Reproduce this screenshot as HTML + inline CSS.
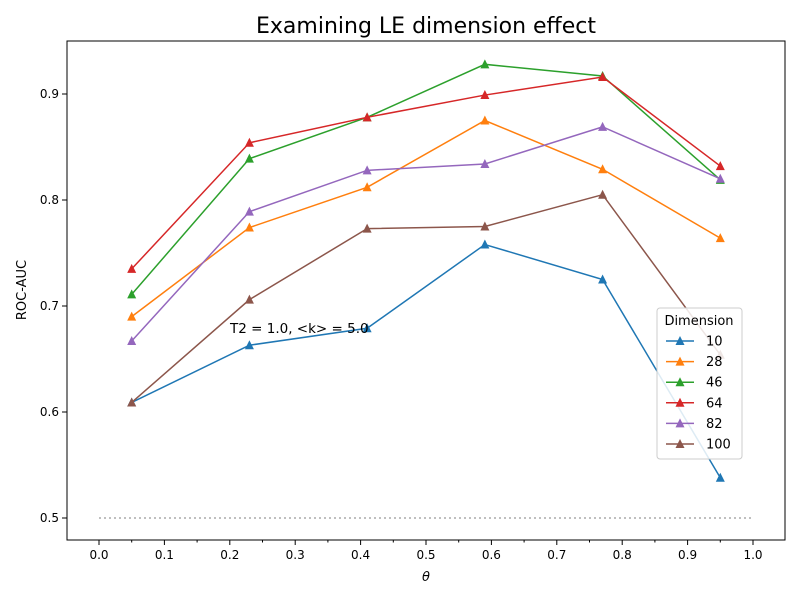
<!DOCTYPE html>
<html><head><meta charset="utf-8"><style>
body{margin:0;background:#fff;}
svg{font-family:"DejaVu Sans","Liberation Sans",sans-serif;}
</style></head><body>
<svg id="chart" width="800" height="600" xmlns="http://www.w3.org/2000/svg">
<rect width="800" height="600" fill="#fff"/>
<text x="426" y="33" font-size="22" text-anchor="middle">Examining LE dimension effect</text>
<g id="grid"></g>
<g id="series"></g>
<rect x="67" y="41" width="718" height="499" fill="none" stroke="#000" stroke-width="1"/>
<g id="axes"></g>
<text x="426" y="581" font-size="13" text-anchor="middle" font-style="italic">θ</text>
<text x="26" y="290" font-size="13" text-anchor="middle" transform="rotate(-90 26 290)">ROC-AUC</text>
<text x="230" y="333" font-size="13.5">T2 = 1.0, &lt;k&gt; = 5.0</text>
<g id="legend"></g>
</svg>
<script>
const xs = [0.05, 0.23, 0.41, 0.59, 0.77, 0.95];
const seriesNames = ["10", "28", "46", "64", "82", "100"];
const s10 = [0.609, 0.663, 0.679, 0.758, 0.725, 0.538];
const s28 = [0.690, 0.774, 0.812, 0.875, 0.829, 0.764];
const s46 = [0.711, 0.839, 0.878, 0.928, 0.917, 0.819];
const s64 = [0.735, 0.854, 0.878, 0.899, 0.916, 0.832];
const s82 = [0.667, 0.789, 0.828, 0.834, 0.869, 0.820];
const s100 = [0.609, 0.706, 0.773, 0.775, 0.805, 0.654];
const xTicks = [0,0.1,0.2,0.3,0.4,0.5,0.6,0.7,0.8,0.9,1.0];
const yTicks = [0.5,0.6,0.7,0.8,0.9];
const baseline = 0.5;
const colors = ["#1f77b4","#ff7f0e","#2ca02c","#d62728","#9467bd","#8c564b"];
const allSeries = [s10,s28,s46,s64,s82,s100];
const NS="http://www.w3.org/2000/svg";
function X(v){return 99+v*654;}
function Y(v){return 518-(v-0.5)*1060;}
function mk(tag,attrs,parent){const e=document.createElementNS(NS,tag);for(const k in attrs)e.setAttribute(k,attrs[k]);parent.appendChild(e);return e;}
const axes=document.getElementById('axes'), ser=document.getElementById('series'), grid=document.getElementById('grid'), leg=document.getElementById('legend');
const bl=mk('line',{x1:X(0),x2:X(1),y1:Y(baseline),y2:Y(baseline),stroke:'#aaa','stroke-dasharray':'2,3','stroke-width':1.5},grid);


xTicks.forEach(t=>{
  const l=mk('line',{x1:X(t),x2:X(t),y1:540,y2:545,stroke:'#000'},axes);
  
  
  const tx=mk('text',{x:X(t),y:559,'font-size':12,'text-anchor':'middle'},axes);tx.textContent=t.toFixed(1);
  
  
  if(t<1){const m=mk('line',{x1:X(t+0.05),x2:X(t+0.05),y1:540,y2:542.5,stroke:'#000'},axes);
  
  }
});
yTicks.forEach(t=>{
  const l=mk('line',{x1:62,x2:67,y1:Y(t),y2:Y(t),stroke:'#000'},axes);
  
  
  const tx=mk('text',{x:59,y:Y(t)+4,'font-size':12,'text-anchor':'end'},axes);tx.textContent=t.toFixed(1);
  
  
});
function tri(cx,cy,c,parent){return mk('polygon',{points:`${cx},${cy-5} ${cx-4.5},${cy+4} ${cx+4.5},${cy+4}`,fill:c},parent);}
allSeries.forEach((s,i)=>{
  const g=mk('g',{},ser);
  
  
  const pl=mk('polyline',{points:s.map((v,j)=>X(xs[j])+','+Y(v)).join(' '),fill:'none',stroke:colors[i],'stroke-width':1.5},g);
  
  
  s.forEach((v,j)=>{const p=tri(X(xs[j]),Y(v),colors[i],g);
    
    });
});
mk('rect',{x:657,y:308,width:85,height:151,rx:3,fill:'#fff','fill-opacity':0.85,stroke:'#ccc'},leg);
const lt=mk('text',{x:699,y:325,'font-size':13,'text-anchor':'middle'},leg);lt.textContent='Dimension';


seriesNames.forEach((n,i)=>{
  const y=341+i*20.6;
  const g=mk('g',{},leg);
  
  
  mk('line',{x1:666,x2:694,y1:y,y2:y,stroke:colors[i],'stroke-width':1.5},g);
  tri(680,y,colors[i],g);
  const t=mk('text',{x:706,y:y+4.5,'font-size':13},g);t.textContent=n;
});
</script>
</body></html>
